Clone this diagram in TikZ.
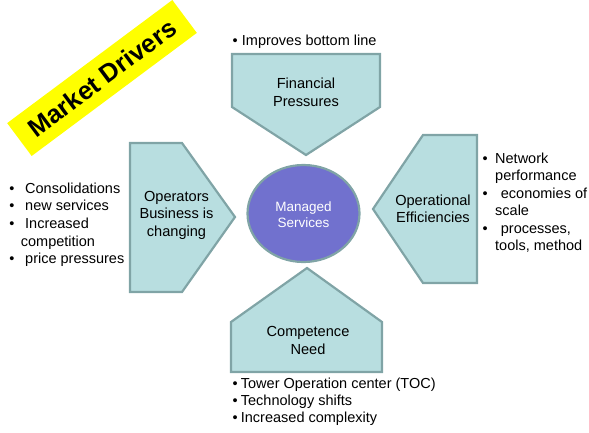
\documentclass[tikz,border=0pt]{standalone}
\usepackage{fontspec}
\setmainfont{Liberation Sans}
\usetikzlibrary{shapes.geometric}
\definecolor{pentfill}{RGB}{184,222,224}
\definecolor{pentline}{RGB}{128,164,166}
\definecolor{ellfill}{RGB}{113,113,206}
\definecolor{banner}{RGB}{255,255,0}
\tikzset{
  pent/.style={fill=pentfill, draw=pentline, line width=2.2pt, line join=miter},
  lbl/.style={font=\fontsize{14.6}{17.5}\selectfont, inner sep=0pt, anchor=base},
  item/.style={font=\fontsize{14.5}{17.5}\selectfont, inner sep=0pt, anchor=base west},
}
\newcommand{\bul}[1]{\makebox[#1][l]{\textbullet}}
\begin{document}
\begin{tikzpicture}[x=1pt,y=-1pt]
\path[use as bounding box] (0,0) rectangle (589,432);

% banner
\node[fill=banner, rotate=36.7, minimum width=206pt, minimum height=41pt, inner sep=0pt,
      font=\bfseries\fontsize{25.5}{25.5}\selectfont] (banner) at (102,78) {Market Drivers};

% top pentagon
\draw[pent] (232,54) -- (380,54) -- (380,107) -- (306,155) -- (232,107) -- cycle;
% left pentagon
\draw[pent] (130,143) -- (182,143) -- (235,217) -- (182,292) -- (130,292) -- cycle;
% right pentagon
\draw[pent] (477,135) -- (423,135) -- (373,209) -- (423,283) -- (477,283) -- cycle;
% bottom pentagon
\draw[pent] (231,372) -- (231,322) -- (307,268) -- (382,322) -- (382,372) -- cycle;

% center ellipse
\node[ellipse, draw=pentline, line width=2.2pt, fill=ellfill, minimum width=112pt, minimum height=97pt, inner sep=0pt] (ms) at (303.5,213.5) {};
\node[lbl, font=\fontsize{13.5}{16}\selectfont, text=white] (ms1) at (303.5,211) {Managed};
\node[lbl, font=\fontsize{13.5}{16}\selectfont, text=white] (ms2) at (303.5,227) {Services};

% pentagon labels
\node[lbl] (fp1) at (306,88) {Financial};
\node[lbl] (fp2) at (306,106) {Pressures};
\node[lbl] (ob1) at (176.5,201) {Operators};
\node[lbl] (ob2) at (176.5,218.5) {Business is};
\node[lbl] (ob3) at (176.5,236) {changing};
\node[lbl] (oe1) at (433,205) {Operational};
\node[lbl] (oe2) at (433,222.5) {Efficiencies};
\node[lbl] (cn1) at (308,336) {Competence};
\node[lbl] (cn2) at (308,354) {Need};

% top list
\node[item] (t1) at (232.5,45) {\bul{9.2pt}Improves bottom line};

% left list
\node[item] (l1) at (9.2,193.3) {\bul{15.8pt}Consolidations};
\node[item] (l2) at (9.2,210.9) {\bul{15.8pt}new services};
\node[item] (l3) at (9.2,228.5) {\bul{15.8pt}Increased};
\node[item] (l4) at (20.7,246.1) {competition};
\node[item] (l5) at (9.2,263.7) {\bul{15.8pt}price pressures};

% right list
\node[item] (r1) at (482.5,163.3) {\bul{12.5pt}Network};
\node[item] (r2) at (495,180.8) {performance};
\node[item] (r3) at (482.5,198.3) {\bul{18.2pt}economies of};
\node[item] (r4) at (495,215.8) {scale};
\node[item] (r5) at (482.5,233.3) {\bul{18.2pt}processes,};
\node[item] (r6) at (495,250.8) {tools, method};

% bottom list
\node[item] (b1) at (232.5,388.3) {\bul{8.2pt}Tower Operation center (TOC)};
\node[item] (b2) at (232.5,405.5) {\bul{8.2pt}Technology shifts};
\node[item] (b3) at (232.5,422.7) {\bul{8.2pt}Increased complexity};
\end{tikzpicture}
\end{document}
